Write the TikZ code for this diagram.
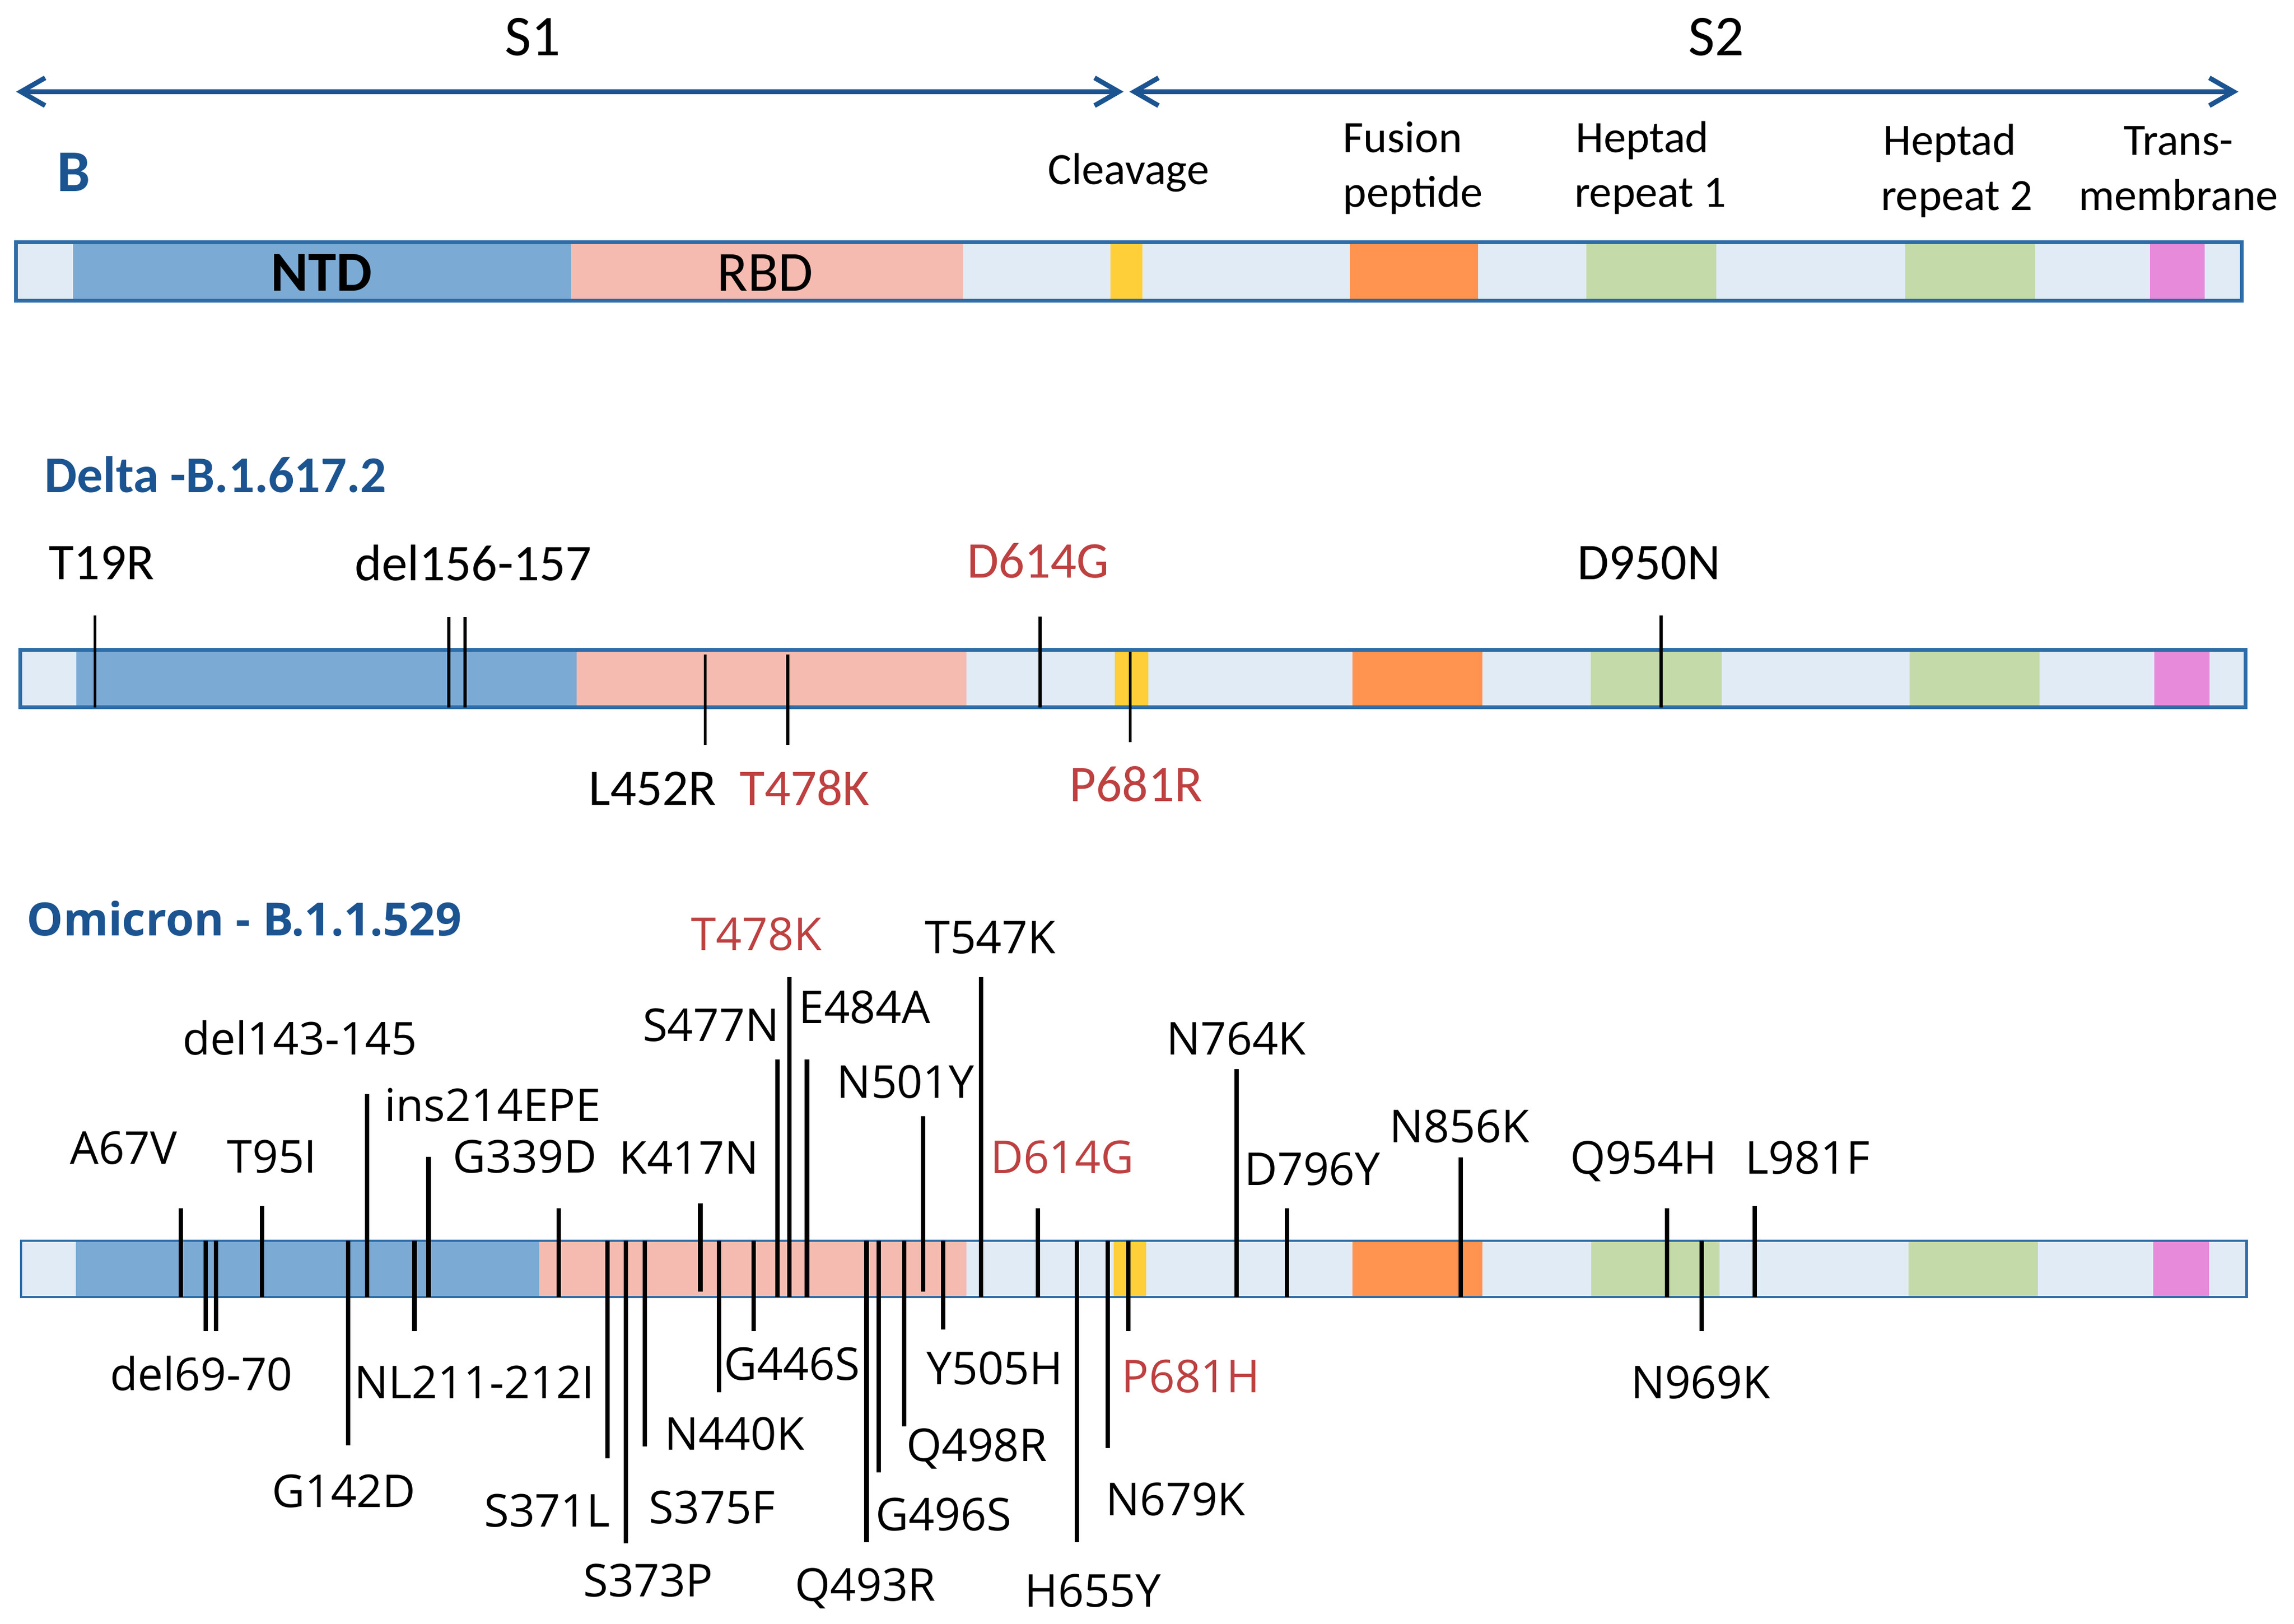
\documentclass[tikz,border=0pt]{standalone}
\usepackage{fontspec}
\setmainfont{Carlito}
\newfontfamily\osans{Open Sans}
\usetikzlibrary{arrows.meta}
\definecolor{dblue}{HTML}{1B5491}
\definecolor{barline}{HTML}{2E6DA8}
\definecolor{barfill}{HTML}{E1EBF5}
\definecolor{ntdc}{HTML}{7BAAD5}
\definecolor{rbdc}{HTML}{F5BBB0}
\definecolor{clvc}{HTML}{FFCF3A}
\definecolor{fusc}{HTML}{FF934F}
\definecolor{hrc}{HTML}{C4DAA8}
\definecolor{tmc}{HTML}{E68AD9}
\definecolor{mred}{HTML}{BE4040}
\begin{document}
\begin{tikzpicture}[x=0.01cm,y=-0.01cm,
  every node/.style={inner sep=0pt},
  toplab/.style={anchor=base, font=\fontsize{11.2}{13}\selectfont},
  smlab/.style={anchor=base west, font=\fontsize{8.7}{10}\selectfont},
  domlab/.style={anchor=base, font=\fontsize{11}{13}\selectfont},
  dlab/.style={anchor=base, font=\fontsize{10}{12}\selectfont},
  olab/.style={anchor=base, font=\osans\fontsize{8.8}{10}\selectfont},
  redtxt/.style={text=mred},
  barborder/.style={draw=barline, line width=0.75pt},
  obarborder/.style={draw=barline, line width=0.45pt},
  dtick/.style={draw=black, line width=0.6pt},
  otick/.style={draw=black, line width=0.85pt},
  spanarrow/.style={draw=dblue, line width=0.94pt,
    {Straight Barb[length=4.7pt,width=5.4pt]}-{Straight Barb[length=4.7pt,width=5.4pt]}}
]
\useasboundingbox (0,0) rectangle (1568,1110.2);

% ---------------- Top: S1 / S2 ----------------
\node[toplab] (s1) at (364,38) {S1};
\node[toplab] (s2) at (1173,38) {S2};
\coordinate (s1l) at (11,62.7);
\coordinate (s1r) at (768,62.7);
\coordinate (s2l) at (772,62.7);
\coordinate (s2r) at (1530,62.7);
\draw[spanarrow] (s1l) -- (s1r);
\draw[spanarrow] (s2l) -- (s2r);

\node[anchor=base, font=\fontsize{11.5}{13}\selectfont\bfseries, text=dblue] (blab) at (50.5,131) {B};
\node[smlab] (clv) at (715.6,126) {Cleavage};
\node[smlab] (fus1) at (917.4,104) {Fusion};
\node[smlab] (fus2) at (917.4,141.6) {peptide};
\node[smlab] (hra1) at (1076.5,104) {Heptad};
\node[smlab] (hra2) at (1075.5,141.6) {repeat 1};
\node[smlab] (hrb1) at (1286.6,106.2) {Heptad};
\node[smlab] (hrb2) at (1285,143.8) {repeat 2};
\node[smlab, anchor=base] (tm1) at (1489,106.2) {Trans-};
\node[smlab, anchor=base] (tm2) at (1489,143.8) {membrane};

% top bar
\fill[barfill] (11,165.5) rectangle (1532.3,205.5);
\fill[ntdc] (50,165.5) rectangle (390.3,205.5);
\fill[rbdc] (390.3,165.5) rectangle (658.4,205.5);
\fill[clvc] (759,165.5) rectangle (781,205.5);
\fill[fusc] (922.5,165.5) rectangle (1010.2,205.5);
\fill[hrc] (1084.4,165.5) rectangle (1173.2,205.5);
\fill[hrc] (1302.3,165.5) rectangle (1391,205.5);
\fill[tmc] (1469.7,165.5) rectangle (1507,205.5);
\draw[barborder] (11,165.5) rectangle (1532.3,205.5);
\node[domlab, font=\fontsize{11}{13}\selectfont\bfseries] (ntd) at (219.7,199) {NTD};
\node[domlab] (rbd) at (523,199) {RBD};

% ---------------- Delta ----------------
\node[anchor=base west, font=\fontsize{10}{12}\selectfont\bfseries, text=dblue] (dtitle) at (30,336.6) {Delta -B.1.617.2};

\fill[barfill] (14,444.3) rectangle (1534.8,483.6);
\fill[ntdc] (52,444.3) rectangle (394.3,483.6);
\fill[rbdc] (394.3,444.3) rectangle (660.5,483.6);
\fill[clvc] (762,444.3) rectangle (784.8,483.6);
\fill[fusc] (924.5,444.3) rectangle (1013.3,483.6);
\fill[hrc] (1087.4,444.3) rectangle (1176.7,483.6);
\fill[hrc] (1305.3,444.3) rectangle (1394,483.6);
\fill[tmc] (1472.7,444.3) rectangle (1510.1,483.6);
\draw[barborder] (14,444.3) rectangle (1534.8,483.6);

\foreach \n/\x/\ya/\yb in {
  dT19R/65/420.8/483.6, dDelA/306.7/422/483.6, dDelB/318/422/483.6,
  dD614G/711/421.6/483.6, dD950N/1135.3/420.8/483.6,
  dL452R/482/447.3/509.2, dT478K/538.5/447.3/509.2, dP681R/772.5/445.6/507.2} {
  \coordinate (\n-a) at (\x,\ya);
  \coordinate (\n-b) at (\x,\yb);
  \draw[dtick] (\n-a) -- (\n-b);
}

\node[dlab] (ldT19R) at (69.5,396) {T19R};
\node[dlab] (ldDel) at (323.5,397) {del156-157};
\node[dlab, redtxt] (ldD614G) at (709.6,395.2) {D614G};
\node[dlab] (ldD950N) at (1127,396) {D950N};
\node[dlab] (ldL452R) at (446,550.5) {L452R};
\node[dlab, redtxt] (ldT478K) at (550,550.5) {T478K};
\node[dlab, redtxt] (ldP681R) at (776.5,548) {P681R};

% ---------------- Omicron ----------------
\node[anchor=base west, font=\osans\bfseries\fontsize{8.9}{10}\selectfont, text=dblue] (otitle) at (17.7,639.5) {Omicron - B.1.1.529};

\fill[barfill] (14.3,848.3) rectangle (1535.6,886.6);
\fill[ntdc] (51.9,848.3) rectangle (368.7,886.6);
\fill[rbdc] (368.7,848.3) rectangle (660.4,886.6);
\fill[clvc] (761.3,848.3) rectangle (783.6,886.6);
\fill[fusc] (924.4,848.3) rectangle (1013.3,886.6);
\fill[hrc] (1087.5,848.3) rectangle (1175.2,886.6);
\fill[hrc] (1304.6,848.3) rectangle (1392.9,886.6);
\fill[tmc] (1471.8,848.3) rectangle (1510,886.6);
\draw[obarborder] (14.3,848.3) rectangle (1535.6,886.6);

% ticks above the bar
\foreach \n/\x/\ya/\yb in {
  oA67V/123.6/826/886.6, oT95I/179.1/824.5/886.6, oDel143/251/748/886.6,
  oIns214/292.9/790.7/886.6, oG339D/381.9/826/886.6, oK417N/478.7/822.6/883,
  oS477N/531.3/724.4/886.6, oT478K/539.7/668/886.6, oE484A/551.6/724.4/886.6,
  oN501Y/630.9/763/883, oT547K/670.6/668/886.6, oD614G/709.3/826/886.6,
  oN764K/845.4/730.8/886.6, oD796Y/879.6/826/886.6, oN856K/998.6/791.3/886.6,
  oQ954H/1139.4/826/886.6, oL981F/1199.5/824.5/886.6} {
  \coordinate (\n-a) at (\x,\ya);
  \coordinate (\n-b) at (\x,\yb);
  \draw[otick] (\n-a) -- (\n-b);
}
% ticks below the bar
\foreach \n/\x/\ya/\yb in {
  oDel69a/140.5/848.3/910, oDel69b/147.7/848.3/910, oG142D/237.8/848.3/988,
  oNL211/283.3/848.3/910, oS371L/415.2/848.3/997, oS373P/427.9/848.3/1055,
  oS375F/440.9/848.3/989, oN440K/491.4/848.3/952, oG446S/515/848.3/910,
  oQ493R/592.3/848.3/1054.5, oG496S/600.7/848.3/1006.7, oQ498R/617.9/848.3/975,
  oY505H/644.6/848.3/909, oH655Y/736/848.3/1054.5, oN679K/757.3/848.3/990,
  oP681H/771.4/848.3/910, oN969K/1163.2/848.3/910} {
  \coordinate (\n-a) at (\x,\ya);
  \coordinate (\n-b) at (\x,\yb);
  \draw[otick] (\n-a) -- (\n-b);
}

% labels above
\node[olab] (lA67V) at (84.5,796) {A67V};
\node[olab] (lT95I) at (186,801.6) {T95I};
\node[olab] (lDel143) at (205,721) {del143-145};
\node[olab, anchor=base west] (lIns214) at (262.2,766.6) {ins214EPE};
\node[olab, anchor=base west] (lG339D) at (309,801.6) {G339D};
\node[olab] (lK417N) at (471,802.6) {K417N};
\node[olab, redtxt] (lT478K) at (517,649.7) {T478K};
\node[olab] (lT547K) at (677,652) {T547K};
\node[olab] (lS477N) at (486,711.8) {S477N};
\node[olab] (lE484A) at (591,699.8) {E484A};
\node[olab] (lN501Y) at (619,750.7) {N501Y};
\node[olab, redtxt] (lD614G) at (726,802) {D614G};
\node[olab] (lN764K) at (845,721) {N764K};
\node[olab] (lD796Y) at (897,810.3) {D796Y};
\node[olab] (lN856K) at (997.5,781) {N856K};
\node[olab] (lQ954H) at (1123.5,802.6) {Q954H};
\node[olab] (lL981F) at (1235.5,802.6) {L981F};
% labels below
\node[olab] (lDel69) at (137.6,950.7) {del69-70};
\node[olab, anchor=base west] (lNL211) at (241.5,956) {NL211-212I};
\node[olab] (lG142D) at (235,1030.5) {G142D};
\node[olab] (lS371L) at (374,1043.9) {S371L};
\node[olab] (lS373P) at (443,1091.7) {S373P};
\node[olab] (lS375F) at (486.7,1041.6) {S375F};
\node[olab] (lN440K) at (502,991.3) {N440K};
\node[olab] (lG446S) at (541.4,943.5) {G446S};
\node[olab] (lQ493R) at (591.5,1094.5) {Q493R};
\node[olab] (lG496S) at (645,1046.4) {G496S};
\node[olab] (lQ498R) at (667.7,999) {Q498R};
\node[olab] (lY505H) at (680,946.6) {Y505H};
\node[olab] (lH655Y) at (747,1098.7) {H655Y};
\node[olab] (lN679K) at (803.5,1035.9) {N679K};
\node[olab, redtxt] (lP681H) at (814,952) {P681H};
\node[olab] (lN969K) at (1162.4,956) {N969K};
\end{tikzpicture}
\end{document}
